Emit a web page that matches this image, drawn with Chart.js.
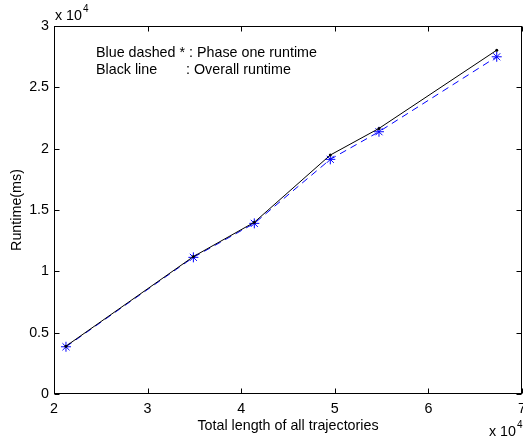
<!DOCTYPE html>
<html>
<head>
<meta charset="utf-8">
<script src="https://cdn.jsdelivr.net/npm/chart.js@4/dist/chart.umd.min.js"></script>
<style>
  body { margin: 0; background: #fff; }
  canvas { display: block; }
</style>
</head>
<body>
<canvas id="chart" width="523" height="439"></canvas>
<script>
// total trajectory length (x), runtimes in ms
const lengths = [21280, 34890, 41400, 49520, 54720, 67300];
const phaseOne = [3850, 11140, 13910, 19130, 21380, 27490];
const overall = [3900, 11200, 14000, 19480, 21650, 28030];

const xTicks = [20000, 30000, 40000, 50000, 60000, 70000];
const yTicks = [0, 5000, 10000, 15000, 20000, 25000, 30000];

const legendLines = ['Blue dashed * : Phase one runtime', 'Black line'];
const legendDesc = ': Overall runtime';

const FAMILY = '"Liberation Sans", Arial, sans-serif';
const SIZE = 14.3;
const FONT = SIZE + 'px ' + FAMILY;

const toPoints = (ys) => ys.map((y, i) => ({ x: lengths[i], y }));
const noPadding = () => ({ left: 0, right: 0, top: 0, bottom: 0 });

// matlab style box with inward ticks, plus annotations
const matlabBox = {
    id: 'matlabBox',
    afterDatasetsDraw(chart) {
        const { ctx, chartArea: a, scales } = chart;
        const L = Math.round(a.left) + 0.5, R = Math.round(a.right) - 0.5;
        const T = Math.round(a.top) + 0.5, B = Math.round(a.bottom) - 0.5;
        ctx.save();
        ctx.strokeStyle = '#000';
        ctx.lineWidth = 1;
        ctx.strokeRect(L, T, R - L, B - T);
        ctx.beginPath();
        xTicks.forEach((v) => {
            const px = Math.round(scales.x.getPixelForValue(v)) + 0.5;
            ctx.moveTo(px, B); ctx.lineTo(px, B - 5);
            ctx.moveTo(px, T); ctx.lineTo(px, T + 5);
        });
        yTicks.forEach((v) => {
            const py = Math.round(scales.y.getPixelForValue(v)) + 0.5;
            ctx.moveTo(L, py); ctx.lineTo(L + 5, py);
            ctx.moveTo(R, py); ctx.lineTo(R - 5, py);
        });
        ctx.stroke();

        ctx.fillStyle = '#000';
        ctx.font = FONT;
        ctx.textBaseline = 'middle';
        ctx.textAlign = 'left';
        // annotation text
        ctx.fillText(legendLines[0], 96, 53);
        ctx.fillText(legendLines[1], 96, 70);
        ctx.fillText(legendDesc, 186, 70);

        // exponent labels
        const expo = (x, y) => {
            ctx.font = FONT;
            ctx.fillText('x 10', x, y);
            const w = ctx.measureText('x 10').width;
            ctx.font = '10px ' + FAMILY;
            ctx.fillText('4', x + w + 1, y - 7);
        };
        expo(55, 16);
        expo(489, 432);
        ctx.restore();
    }
};

new Chart(document.getElementById('chart'), {
    type: 'line',
    data: {
        datasets: [
            {
                label: 'Overall runtime',
                data: toPoints(overall),
                borderColor: '#000',
                backgroundColor: '#000',
                borderWidth: 1,
                pointRadius: 1.5,
                pointBorderWidth: 0,
                fill: false,
                tension: 0,
            },
            {
                label: 'Phase one runtime',
                data: toPoints(phaseOne),
                borderColor: '#0000ff',
                backgroundColor: '#0000ff',
                borderWidth: 1,
                borderDash: [7, 5],
                pointStyle: 'star',
                pointRadius: 5,
                pointBorderWidth: 1,
                pointBorderColor: '#0000ff',
                fill: false,
                tension: 0,
            },
        ],
    },
    options: {
        responsive: false,
        animation: false,
        layout: { autoPadding: false, padding: { top: 26, right: 1, left: 0, bottom: 0 } },
        scales: {
            x: {
                type: 'linear',
                min: 20000,
                max: 70000,
                afterFit: (s) => { s.height = 45; s.paddingLeft = 0; s.paddingRight = 0; s.getPadding = noPadding; },
                afterBuildTicks: (s) => { s.ticks = xTicks.map((v) => ({ value: v })); },
                grid: { display: false, drawTicks: false },
                border: { display: false },
                ticks: {
                    padding: 6,
                    color: '#000',
                    font: { family: FAMILY, size: SIZE },
                    maxRotation: 0,
                    callback: (v) => String(v / 10000),
                },
                title: {
                    display: true,
                    text: 'Total length of all trajectories',
                    color: '#000',
                    font: { family: FAMILY, size: SIZE },
                    padding: { top: 0, bottom: 4 },
                },
            },
            y: {
                type: 'linear',
                min: 0,
                max: 30000,
                afterFit: (s) => { s.width = 54; s.paddingTop = 0; s.paddingBottom = 0; s.getPadding = noPadding; },
                afterBuildTicks: (s) => { s.ticks = yTicks.map((v) => ({ value: v })); },
                grid: { display: false, drawTicks: false },
                border: { display: false },
                ticks: {
                    padding: 5,
                    color: '#000',
                    font: { family: FAMILY, size: SIZE },
                    callback: (v) => String(v / 10000),
                },
                title: {
                    display: true,
                    text: 'Runtime(ms)',
                    color: '#000',
                    font: { family: FAMILY, size: SIZE },
                    padding: { top: 8, bottom: 0 },
                },
            },
        },
        plugins: {
            legend: { display: false },
            tooltip: { enabled: false },
        },
    },
    plugins: [matlabBox],
});
</script>
</body>
</html>
